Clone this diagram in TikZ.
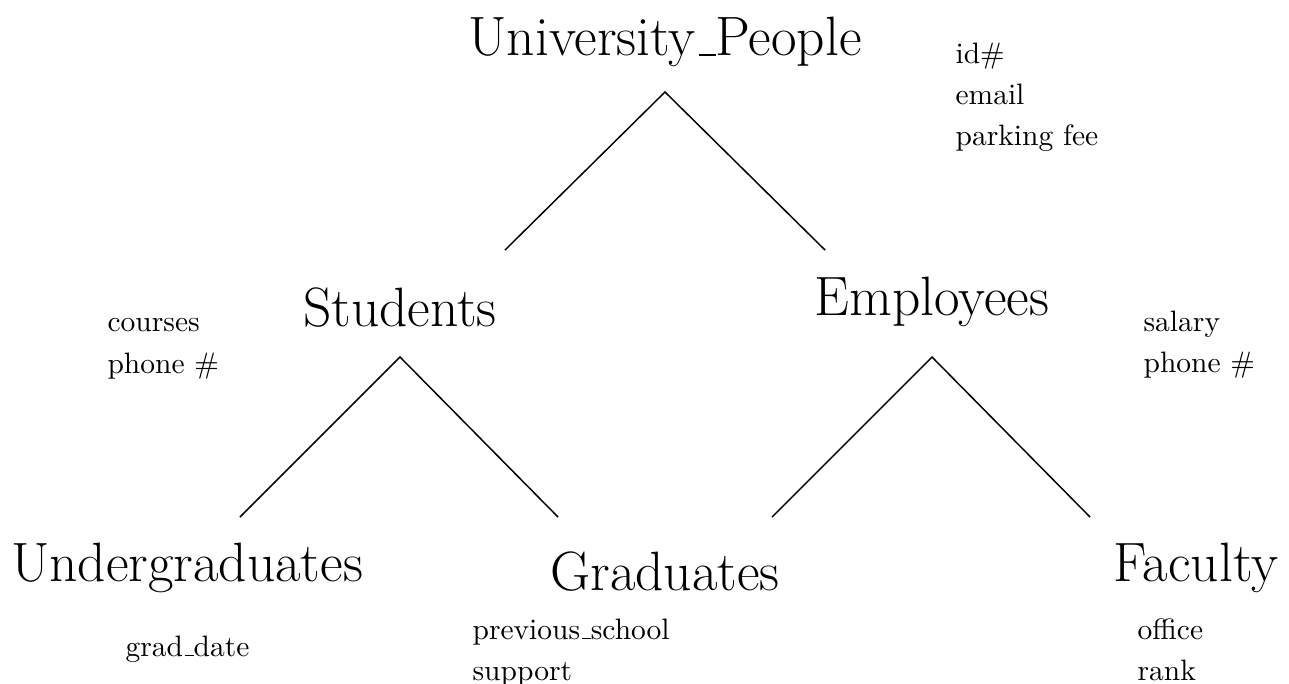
\documentclass[tikz,border=0pt]{standalone}
\usepackage{xcolor}
\usepackage{amsmath,amssymb}
\usepackage{tikz}

% short rule underscore, as in the old OT1 \_
\newcommand{\us}{\leavevmode\kern.06em\vbox{\hrule width.3em}}

\tikzset{
  class/.style={font={\fontsize{18.8}{22}\selectfont}, inner sep=0pt},
  attrs/.style={font={\fontsize{10}{14}\selectfont}, align=left, anchor=north west, inner sep=0pt},
  isa/.style={line width=0.5pt}
}

\begin{document}
\begin{tikzpicture}[x=0.339pt, y=-0.339pt]
  \useasboundingbox (0,0) rectangle (1289,683);
  % class names
  \node[class] (people) at (665,42) {University\us People};
  \node[class] (students) at (400,308) {Students};
  \node[class] (employees) at (932,302) {Employees};
  \node[class] (undergrad) at (187,568) {Undergraduates};
  \node[class] (grad) at (665,572) {Graduates};
  \node[class] (faculty) at (1196,568) {Faculty};
  % attributes
  \node[attrs] (peopleattr) at (955,42) {id\#\\email\\parking fee};
  \node[attrs] (studattr) at (107,318) {courses\\phone \#};
  \node[attrs] (empattr) at (1143,310) {salary\\phone \#};
  \node[attrs] (undergradattr) at (125,635) {grad\us date};
  \node[attrs] (gradattr) at (472,618) {previous\us school\\support};
  \node[attrs] (facattr) at (1137,618) {office\\rank};
  % hierarchy
  \coordinate (peopletip) at (665,92);
  \coordinate (studtop) at (505,250);
  \coordinate (emptop) at (825,250);
  \coordinate (studtip) at (400,357);
  \coordinate (undergradtop) at (240,517);
  \coordinate (gradtop) at (558,517);
  \coordinate (emptip) at (932,357);
  \coordinate (empleft) at (772,517);
  \coordinate (factop) at (1090,517);
  \draw[isa] (studtop) -- (peopletip) -- (emptop);
  \draw[isa] (undergradtop) -- (studtip) -- (gradtop);
  \draw[isa] (empleft) -- (emptip) -- (factop);
\end{tikzpicture}
\end{document}
